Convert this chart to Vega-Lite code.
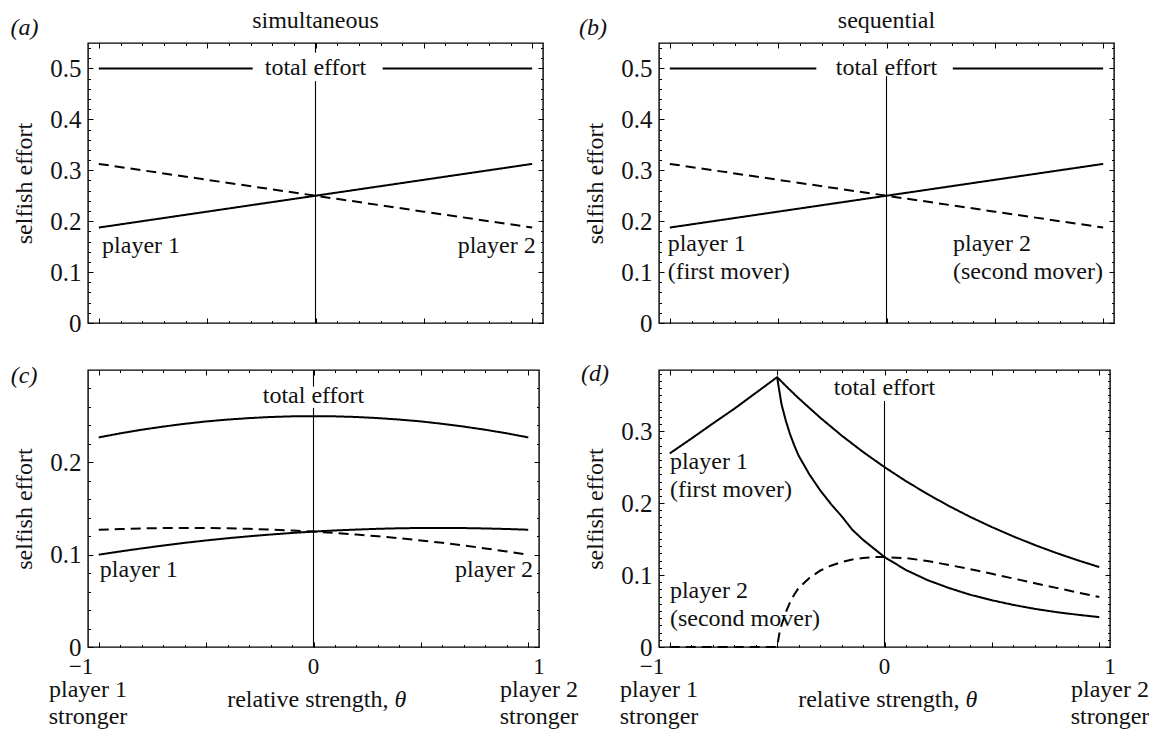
{
  "$schema": "https://vega.github.io/schema/vega-lite/v6.json",
  "background": "white",
  "padding": {"left": 9, "top": 8, "right": 0, "bottom": 0},
  "columns": 2,
  "bounds": "flush",
  "spacing": {"row": 47, "column": 116},
  "config": {
    "font": "Liberation Serif",
    "view": {"stroke": "black", "strokeWidth": 1.4},
    "axis": {"domain": false, "grid": false, "tickColor": "black", "tickWidth": 1, "labelFont": "Liberation Serif", "labelFontSize": 25, "labelColor": "#111", "titleFont": "Liberation Serif", "titleFontSize": 24, "titleFontWeight": "normal", "titleColor": "#111", "labelFlush": false, "labelOverlap": false},
    "text": {"font": "Liberation Serif", "fontSize": 24, "color": "#111"},
    "line": {"color": "black", "strokeWidth": 2},
    "rule": {"color": "black", "strokeWidth": 1.1}
  },
  "datasets": {
    "cA": [
      {"theta": -1, "eff": 0.1875, "who": "player 1", "seg": 1},
      {"theta": -0.5, "eff": 0.21875, "who": "player 1", "seg": 1},
      {"theta": 0, "eff": 0.25, "who": "player 1", "seg": 1},
      {"theta": 0.5, "eff": 0.28125, "who": "player 1", "seg": 1},
      {"theta": 1, "eff": 0.3125, "who": "player 1", "seg": 1},
      {"theta": -1, "eff": 0.3125, "who": "player 2", "seg": 1},
      {"theta": -0.5, "eff": 0.28125, "who": "player 2", "seg": 1},
      {"theta": 0, "eff": 0.25, "who": "player 2", "seg": 1},
      {"theta": 0.5, "eff": 0.21875, "who": "player 2", "seg": 1},
      {"theta": 1, "eff": 0.1875, "who": "player 2", "seg": 1},
      {"theta": -1, "eff": 0.5, "who": "total effort", "seg": 1},
      {"theta": -0.29, "eff": 0.5, "who": "total effort", "seg": 1},
      {"theta": 0.31, "eff": 0.5, "who": "total effort", "seg": 2},
      {"theta": 1, "eff": 0.5, "who": "total effort", "seg": 2}
    ],
    "cB": [
      {"theta": -1, "eff": 0.1875, "who": "player 1", "seg": 1},
      {"theta": -0.5, "eff": 0.21875, "who": "player 1", "seg": 1},
      {"theta": 0, "eff": 0.25, "who": "player 1", "seg": 1},
      {"theta": 0.5, "eff": 0.28125, "who": "player 1", "seg": 1},
      {"theta": 1, "eff": 0.3125, "who": "player 1", "seg": 1},
      {"theta": -1, "eff": 0.3125, "who": "player 2", "seg": 1},
      {"theta": -0.5, "eff": 0.28125, "who": "player 2", "seg": 1},
      {"theta": 0, "eff": 0.25, "who": "player 2", "seg": 1},
      {"theta": 0.5, "eff": 0.21875, "who": "player 2", "seg": 1},
      {"theta": 1, "eff": 0.1875, "who": "player 2", "seg": 1},
      {"theta": -1, "eff": 0.5, "who": "total effort", "seg": 1},
      {"theta": -0.324, "eff": 0.5, "who": "total effort", "seg": 1},
      {"theta": 0.306, "eff": 0.5, "who": "total effort", "seg": 2},
      {"theta": 1, "eff": 0.5, "who": "total effort", "seg": 2}
    ],
    "cC": [
      {"theta": -1, "eff": 0.1, "who": "player 1", "seg": 1},
      {"theta": -0.9, "eff": 0.1035, "who": "player 1", "seg": 1},
      {"theta": -0.8, "eff": 0.1068, "who": "player 1", "seg": 1},
      {"theta": -0.7, "eff": 0.1099, "who": "player 1", "seg": 1},
      {"theta": -0.6, "eff": 0.1128, "who": "player 1", "seg": 1},
      {"theta": -0.5, "eff": 0.1154, "who": "player 1", "seg": 1},
      {"theta": -0.4, "eff": 0.1178, "who": "player 1", "seg": 1},
      {"theta": -0.3, "eff": 0.1199, "who": "player 1", "seg": 1},
      {"theta": -0.2, "eff": 0.1218, "who": "player 1", "seg": 1},
      {"theta": -0.1, "eff": 0.1235, "who": "player 1", "seg": 1},
      {"theta": 0, "eff": 0.125, "who": "player 1", "seg": 1},
      {"theta": 0.1, "eff": 0.1262, "who": "player 1", "seg": 1},
      {"theta": 0.2, "eff": 0.1272, "who": "player 1", "seg": 1},
      {"theta": 0.3, "eff": 0.128, "who": "player 1", "seg": 1},
      {"theta": 0.4, "eff": 0.1286, "who": "player 1", "seg": 1},
      {"theta": 0.5, "eff": 0.1289, "who": "player 1", "seg": 1},
      {"theta": 0.6, "eff": 0.129, "who": "player 1", "seg": 1},
      {"theta": 0.7, "eff": 0.1288, "who": "player 1", "seg": 1},
      {"theta": 0.8, "eff": 0.1284, "who": "player 1", "seg": 1},
      {"theta": 0.9, "eff": 0.1278, "who": "player 1", "seg": 1},
      {"theta": 1, "eff": 0.127, "who": "player 1", "seg": 1},
      {"theta": -1, "eff": 0.127, "who": "player 2", "seg": 1},
      {"theta": -0.9, "eff": 0.1278, "who": "player 2", "seg": 1},
      {"theta": -0.8, "eff": 0.1284, "who": "player 2", "seg": 1},
      {"theta": -0.7, "eff": 0.1288, "who": "player 2", "seg": 1},
      {"theta": -0.6, "eff": 0.129, "who": "player 2", "seg": 1},
      {"theta": -0.5, "eff": 0.1289, "who": "player 2", "seg": 1},
      {"theta": -0.4, "eff": 0.1286, "who": "player 2", "seg": 1},
      {"theta": -0.3, "eff": 0.128, "who": "player 2", "seg": 1},
      {"theta": -0.2, "eff": 0.1272, "who": "player 2", "seg": 1},
      {"theta": -0.1, "eff": 0.1262, "who": "player 2", "seg": 1},
      {"theta": 0, "eff": 0.125, "who": "player 2", "seg": 1},
      {"theta": 0.1, "eff": 0.1235, "who": "player 2", "seg": 1},
      {"theta": 0.2, "eff": 0.1218, "who": "player 2", "seg": 1},
      {"theta": 0.3, "eff": 0.1199, "who": "player 2", "seg": 1},
      {"theta": 0.4, "eff": 0.1178, "who": "player 2", "seg": 1},
      {"theta": 0.5, "eff": 0.1154, "who": "player 2", "seg": 1},
      {"theta": 0.6, "eff": 0.1128, "who": "player 2", "seg": 1},
      {"theta": 0.7, "eff": 0.1099, "who": "player 2", "seg": 1},
      {"theta": 0.8, "eff": 0.1068, "who": "player 2", "seg": 1},
      {"theta": 0.9, "eff": 0.1035, "who": "player 2", "seg": 1},
      {"theta": 1, "eff": 0.1, "who": "player 2", "seg": 1},
      {"theta": -1, "eff": 0.227, "who": "total effort", "seg": 1},
      {"theta": -0.9, "eff": 0.2314, "who": "total effort", "seg": 1},
      {"theta": -0.8, "eff": 0.2353, "who": "total effort", "seg": 1},
      {"theta": -0.7, "eff": 0.2387, "who": "total effort", "seg": 1},
      {"theta": -0.6, "eff": 0.2417, "who": "total effort", "seg": 1},
      {"theta": -0.5, "eff": 0.2443, "who": "total effort", "seg": 1},
      {"theta": -0.4, "eff": 0.2463, "who": "total effort", "seg": 1},
      {"theta": -0.3, "eff": 0.2479, "who": "total effort", "seg": 1},
      {"theta": -0.2, "eff": 0.2491, "who": "total effort", "seg": 1},
      {"theta": -0.1, "eff": 0.2498, "who": "total effort", "seg": 1},
      {"theta": 0, "eff": 0.25, "who": "total effort", "seg": 1},
      {"theta": 0.1, "eff": 0.2498, "who": "total effort", "seg": 1},
      {"theta": 0.2, "eff": 0.2491, "who": "total effort", "seg": 1},
      {"theta": 0.3, "eff": 0.2479, "who": "total effort", "seg": 1},
      {"theta": 0.4, "eff": 0.2463, "who": "total effort", "seg": 1},
      {"theta": 0.5, "eff": 0.2443, "who": "total effort", "seg": 1},
      {"theta": 0.6, "eff": 0.2417, "who": "total effort", "seg": 1},
      {"theta": 0.7, "eff": 0.2387, "who": "total effort", "seg": 1},
      {"theta": 0.8, "eff": 0.2353, "who": "total effort", "seg": 1},
      {"theta": 0.9, "eff": 0.2314, "who": "total effort", "seg": 1},
      {"theta": 1, "eff": 0.227, "who": "total effort", "seg": 1}
    ],
    "cD": [
      {"theta": -1, "eff": 0.269, "who": "total effort", "seg": 1},
      {"theta": -0.9, "eff": 0.2895, "who": "total effort", "seg": 1},
      {"theta": -0.8, "eff": 0.3105, "who": "total effort", "seg": 1},
      {"theta": -0.7, "eff": 0.331, "who": "total effort", "seg": 1},
      {"theta": -0.6, "eff": 0.353, "who": "total effort", "seg": 1},
      {"theta": -0.5, "eff": 0.375, "who": "total effort", "seg": 1},
      {"theta": -0.45, "eff": 0.3601, "who": "total effort", "seg": 1},
      {"theta": -0.4, "eff": 0.3458, "who": "total effort", "seg": 1},
      {"theta": -0.3, "eff": 0.3189, "who": "total effort", "seg": 1},
      {"theta": -0.2, "eff": 0.294, "who": "total effort", "seg": 1},
      {"theta": -0.1, "eff": 0.2711, "who": "total effort", "seg": 1},
      {"theta": 0, "eff": 0.25, "who": "total effort", "seg": 1},
      {"theta": 0.1, "eff": 0.2305, "who": "total effort", "seg": 1},
      {"theta": 0.2, "eff": 0.2126, "who": "total effort", "seg": 1},
      {"theta": 0.3, "eff": 0.196, "who": "total effort", "seg": 1},
      {"theta": 0.4, "eff": 0.1807, "who": "total effort", "seg": 1},
      {"theta": 0.5, "eff": 0.1667, "who": "total effort", "seg": 1},
      {"theta": 0.6, "eff": 0.1537, "who": "total effort", "seg": 1},
      {"theta": 0.7, "eff": 0.1417, "who": "total effort", "seg": 1},
      {"theta": 0.8, "eff": 0.1307, "who": "total effort", "seg": 1},
      {"theta": 0.9, "eff": 0.1205, "who": "total effort", "seg": 1},
      {"theta": 1, "eff": 0.1111, "who": "total effort", "seg": 1},
      {"theta": -0.5, "eff": 0.375, "who": "player 1", "seg": 1},
      {"theta": -0.48, "eff": 0.338, "who": "player 1", "seg": 1},
      {"theta": -0.46, "eff": 0.315, "who": "player 1", "seg": 1},
      {"theta": -0.44, "eff": 0.296, "who": "player 1", "seg": 1},
      {"theta": -0.42, "eff": 0.28, "who": "player 1", "seg": 1},
      {"theta": -0.4, "eff": 0.266, "who": "player 1", "seg": 1},
      {"theta": -0.35, "eff": 0.24, "who": "player 1", "seg": 1},
      {"theta": -0.3, "eff": 0.218, "who": "player 1", "seg": 1},
      {"theta": -0.25, "eff": 0.199, "who": "player 1", "seg": 1},
      {"theta": -0.2, "eff": 0.182, "who": "player 1", "seg": 1},
      {"theta": -0.15, "eff": 0.163, "who": "player 1", "seg": 1},
      {"theta": -0.1, "eff": 0.149, "who": "player 1", "seg": 1},
      {"theta": -0.05, "eff": 0.137, "who": "player 1", "seg": 1},
      {"theta": 0, "eff": 0.125, "who": "player 1", "seg": 1},
      {"theta": 0.1, "eff": 0.107, "who": "player 1", "seg": 1},
      {"theta": 0.2, "eff": 0.093, "who": "player 1", "seg": 1},
      {"theta": 0.3, "eff": 0.082, "who": "player 1", "seg": 1},
      {"theta": 0.4, "eff": 0.0725, "who": "player 1", "seg": 1},
      {"theta": 0.5, "eff": 0.065, "who": "player 1", "seg": 1},
      {"theta": 0.6, "eff": 0.0585, "who": "player 1", "seg": 1},
      {"theta": 0.7, "eff": 0.053, "who": "player 1", "seg": 1},
      {"theta": 0.8, "eff": 0.0485, "who": "player 1", "seg": 1},
      {"theta": 0.9, "eff": 0.0448, "who": "player 1", "seg": 1},
      {"theta": 1, "eff": 0.0415, "who": "player 1", "seg": 1},
      {"theta": -1, "eff": 0, "who": "player 2", "seg": 1},
      {"theta": -0.9, "eff": 0, "who": "player 2", "seg": 1},
      {"theta": -0.8, "eff": 0, "who": "player 2", "seg": 1},
      {"theta": -0.7, "eff": 0, "who": "player 2", "seg": 1},
      {"theta": -0.6, "eff": 0, "who": "player 2", "seg": 1},
      {"theta": -0.5, "eff": 0, "who": "player 2", "seg": 1},
      {"theta": -0.49, "eff": 0.018, "who": "player 2", "seg": 1},
      {"theta": -0.48, "eff": 0.03, "who": "player 2", "seg": 1},
      {"theta": -0.46, "eff": 0.048, "who": "player 2", "seg": 1},
      {"theta": -0.44, "eff": 0.062, "who": "player 2", "seg": 1},
      {"theta": -0.42, "eff": 0.073, "who": "player 2", "seg": 1},
      {"theta": -0.4, "eff": 0.082, "who": "player 2", "seg": 1},
      {"theta": -0.35, "eff": 0.096, "who": "player 2", "seg": 1},
      {"theta": -0.3, "eff": 0.106, "who": "player 2", "seg": 1},
      {"theta": -0.25, "eff": 0.113, "who": "player 2", "seg": 1},
      {"theta": -0.2, "eff": 0.118, "who": "player 2", "seg": 1},
      {"theta": -0.15, "eff": 0.1215, "who": "player 2", "seg": 1},
      {"theta": -0.1, "eff": 0.1238, "who": "player 2", "seg": 1},
      {"theta": -0.05, "eff": 0.125, "who": "player 2", "seg": 1},
      {"theta": 0, "eff": 0.125, "who": "player 2", "seg": 1},
      {"theta": 0.1, "eff": 0.1235, "who": "player 2", "seg": 1},
      {"theta": 0.2, "eff": 0.1196, "who": "player 2", "seg": 1},
      {"theta": 0.3, "eff": 0.114, "who": "player 2", "seg": 1},
      {"theta": 0.4, "eff": 0.1082, "who": "player 2", "seg": 1},
      {"theta": 0.5, "eff": 0.1017, "who": "player 2", "seg": 1},
      {"theta": 0.6, "eff": 0.0952, "who": "player 2", "seg": 1},
      {"theta": 0.7, "eff": 0.0887, "who": "player 2", "seg": 1},
      {"theta": 0.8, "eff": 0.0822, "who": "player 2", "seg": 1},
      {"theta": 0.9, "eff": 0.0757, "who": "player 2", "seg": 1},
      {"theta": 1, "eff": 0.0696, "who": "player 2", "seg": 1}
    ]
  },
  "concat": [
    {
      "width": 455, "height": 280,
      "resolve": {"axis": {"x": "independent", "y": "independent"}},
      "layer": [
        {"data": {"name": "cA"}, "mark": {"type": "line"},
         "encoding": {
           "x": {"field": "theta", "type": "quantitative", "scale": {"domain": [-1.05, 1.05], "nice": false, "zero": false}, "axis": {"orient": "bottom", "values": [-1,-0.9,-0.8,-0.7,-0.6,-0.5,-0.4,-0.3,-0.2,-0.1,0,0.1,0.2,0.3,0.4,0.5,0.6,0.7,0.8,0.9,1], "tickSize": -2.5, "labels": false, "title": null}},
           "y": {"field": "eff", "type": "quantitative", "scale": {"domain": [0, 0.55], "nice": false, "zero": false}, "axis": {"orient": "left", "values": [0,0.1,0.2,0.3,0.4,0.5], "tickSize": -5, "labelPadding": 12, "labelExpr": "datum.value == 0 ? '0' : format(datum.value, '.1f')", "title": "selfish effort", "titlePadding": 13}},
           "strokeDash": {"field": "who", "type": "nominal", "scale": {"domain": ["player 1", "player 2", "total effort"], "range": [[1, 0], [10, 6], [1, 0]]}, "legend": null},
           "detail": {"field": "seg", "type": "nominal"}
         }},
        {"data": {"values": [{"theta": 0, "lo": 0, "hi": 0.475}, {"theta": 0, "lo": 0.531, "hi": 0.55}]}, "mark": {"type": "rule"},
         "encoding": {
           "x": {"field": "theta", "type": "quantitative", "scale": {"domain": [-1.05, 1.05], "nice": false, "zero": false}, "axis": {"orient": "top", "values": [-1,-0.9,-0.8,-0.7,-0.6,-0.5,-0.4,-0.3,-0.2,-0.1,0,0.1,0.2,0.3,0.4,0.5,0.6,0.7,0.8,0.9,1], "tickSize": -2.5, "labels": false, "title": null}},
           "y": {"field": "lo", "type": "quantitative", "scale": {"domain": [0, 0.55], "nice": false, "zero": false}, "axis": {"orient": "right", "values": [0,0.1,0.2,0.3,0.4,0.5], "tickSize": -5, "labels": false, "title": null}},
           "y2": {"field": "hi"}
         }},
        {"data": {"values": [{"theta": 0, "eff": 0.5, "t": "total effort"}]}, "mark": {"type": "text", "align": "center", "baseline": "middle"},
         "encoding": {
           "x": {"field": "theta", "type": "quantitative", "scale": {"domain": [-1.05, 1.05], "nice": false, "zero": false}, "axis": {"orient": "bottom", "values": [-1,-0.5,0,0.5,1], "tickSize": -5, "labels": false, "title": null}},
           "y": {"field": "eff", "type": "quantitative", "scale": {"domain": [0, 0.55], "nice": false, "zero": false}, "axis": {"orient": "left", "values": [0,0.02,0.04,0.06,0.08,0.1,0.12,0.14,0.16,0.18,0.2,0.22,0.24,0.26,0.28,0.3,0.32,0.34,0.36,0.38,0.4,0.42,0.44,0.46,0.48,0.5,0.52,0.54], "tickSize": -2.5, "labels": false, "title": null}},
           "text": {"field": "t"}
         }},
        {"data": {"values": [{"theta": -0.985, "eff": 0.138, "t": "player 1"}]}, "mark": {"type": "text", "align": "left", "baseline": "alphabetic"},
         "encoding": {
           "x": {"field": "theta", "type": "quantitative", "scale": {"domain": [-1.05, 1.05], "nice": false, "zero": false}, "axis": {"orient": "top", "values": [-1,-0.5,0,0.5,1], "tickSize": -5, "labels": false, "title": null}},
           "y": {"field": "eff", "type": "quantitative", "scale": {"domain": [0, 0.55], "nice": false, "zero": false}, "axis": {"orient": "right", "values": [0,0.02,0.04,0.06,0.08,0.1,0.12,0.14,0.16,0.18,0.2,0.22,0.24,0.26,0.28,0.3,0.32,0.34,0.36,0.38,0.4,0.42,0.44,0.46,0.48,0.5,0.52,0.54], "tickSize": -2.5, "labels": false, "title": null}},
           "text": {"field": "t"}
         }},
        {"data": {"values": [{"theta": 1.016, "eff": 0.138, "t": "player 2"}]}, "mark": {"type": "text", "align": "right", "baseline": "alphabetic"},
         "encoding": {
           "x": {"field": "theta", "type": "quantitative", "scale": {"domain": [-1.05, 1.05], "nice": false, "zero": false}, "axis": null},
           "y": {"field": "eff", "type": "quantitative", "scale": {"domain": [0, 0.55], "nice": false, "zero": false}, "axis": null},
           "text": {"field": "t"}
         }},
        {"data": {"values": [{"theta": 0, "eff": 0.55, "t": "simultaneous"}]}, "mark": {"type": "text", "align": "center", "baseline": "alphabetic", "dy": -15},
         "encoding": {
           "x": {"field": "theta", "type": "quantitative", "scale": {"domain": [-1.05, 1.05], "nice": false, "zero": false}, "axis": null},
           "y": {"field": "eff", "type": "quantitative", "scale": {"domain": [0, 0.55], "nice": false, "zero": false}, "axis": null},
           "text": {"field": "t"}
         }},
        {"data": {"values": [{"theta": -1.05, "eff": 0.55, "t": "(a)"}]}, "mark": {"type": "text", "align": "right", "baseline": "alphabetic", "dx": -49.6, "dy": -8, "fontStyle": "italic"},
         "encoding": {
           "x": {"field": "theta", "type": "quantitative", "scale": {"domain": [-1.05, 1.05], "nice": false, "zero": false}, "axis": null},
           "y": {"field": "eff", "type": "quantitative", "scale": {"domain": [0, 0.55], "nice": false, "zero": false}, "axis": null},
           "text": {"field": "t"}
         }}
      ]
    },
    {
      "width": 455, "height": 280,
      "resolve": {"axis": {"x": "independent", "y": "independent"}},
      "layer": [
        {"data": {"name": "cB"}, "mark": {"type": "line"},
         "encoding": {
           "x": {"field": "theta", "type": "quantitative", "scale": {"domain": [-1.05, 1.05], "nice": false, "zero": false}, "axis": {"orient": "bottom", "values": [-1,-0.9,-0.8,-0.7,-0.6,-0.5,-0.4,-0.3,-0.2,-0.1,0,0.1,0.2,0.3,0.4,0.5,0.6,0.7,0.8,0.9,1], "tickSize": -2.5, "labels": false, "title": null}},
           "y": {"field": "eff", "type": "quantitative", "scale": {"domain": [0, 0.55], "nice": false, "zero": false}, "axis": {"orient": "left", "values": [0,0.1,0.2,0.3,0.4,0.5], "tickSize": -5, "labelPadding": 12, "labelExpr": "datum.value == 0 ? '0' : format(datum.value, '.1f')", "title": "selfish effort", "titlePadding": 13}},
           "strokeDash": {"field": "who", "type": "nominal", "scale": {"domain": ["player 1", "player 2", "total effort"], "range": [[1, 0], [10, 6], [1, 0]]}, "legend": null},
           "detail": {"field": "seg", "type": "nominal"}
         }},
        {"data": {"values": [{"theta": 0, "lo": 0, "hi": 0.485}]}, "mark": {"type": "rule"},
         "encoding": {
           "x": {"field": "theta", "type": "quantitative", "scale": {"domain": [-1.05, 1.05], "nice": false, "zero": false}, "axis": {"orient": "top", "values": [-1,-0.9,-0.8,-0.7,-0.6,-0.5,-0.4,-0.3,-0.2,-0.1,0,0.1,0.2,0.3,0.4,0.5,0.6,0.7,0.8,0.9,1], "tickSize": -2.5, "labels": false, "title": null}},
           "y": {"field": "lo", "type": "quantitative", "scale": {"domain": [0, 0.55], "nice": false, "zero": false}, "axis": {"orient": "right", "values": [0,0.1,0.2,0.3,0.4,0.5], "tickSize": -5, "labels": false, "title": null}},
           "y2": {"field": "hi"}
         }},
        {"data": {"values": [{"theta": 0, "eff": 0.5, "t": "total effort"}]}, "mark": {"type": "text", "align": "center", "baseline": "middle"},
         "encoding": {
           "x": {"field": "theta", "type": "quantitative", "scale": {"domain": [-1.05, 1.05], "nice": false, "zero": false}, "axis": {"orient": "bottom", "values": [-1,-0.5,0,0.5,1], "tickSize": -5, "labels": false, "title": null}},
           "y": {"field": "eff", "type": "quantitative", "scale": {"domain": [0, 0.55], "nice": false, "zero": false}, "axis": {"orient": "left", "values": [0,0.02,0.04,0.06,0.08,0.1,0.12,0.14,0.16,0.18,0.2,0.22,0.24,0.26,0.28,0.3,0.32,0.34,0.36,0.38,0.4,0.42,0.44,0.46,0.48,0.5,0.52,0.54], "tickSize": -2.5, "labels": false, "title": null}},
           "text": {"field": "t"}
         }},
        {"data": {"values": [{"theta": -1.01, "eff": 0.142, "t": "player 1\n(first mover)"}, {"theta": 0.307, "eff": 0.142, "t": "player 2\n(second mover)"}]}, "mark": {"type": "text", "align": "left", "baseline": "alphabetic", "lineBreak": "\n", "lineHeight": 28},
         "encoding": {
           "x": {"field": "theta", "type": "quantitative", "scale": {"domain": [-1.05, 1.05], "nice": false, "zero": false}, "axis": {"orient": "top", "values": [-1,-0.5,0,0.5,1], "tickSize": -5, "labels": false, "title": null}},
           "y": {"field": "eff", "type": "quantitative", "scale": {"domain": [0, 0.55], "nice": false, "zero": false}, "axis": {"orient": "right", "values": [0,0.02,0.04,0.06,0.08,0.1,0.12,0.14,0.16,0.18,0.2,0.22,0.24,0.26,0.28,0.3,0.32,0.34,0.36,0.38,0.4,0.42,0.44,0.46,0.48,0.5,0.52,0.54], "tickSize": -2.5, "labels": false, "title": null}},
           "text": {"field": "t"}
         }},
        {"data": {"values": [{"theta": 0, "eff": 0.55, "t": "sequential"}]}, "mark": {"type": "text", "align": "center", "baseline": "alphabetic", "dy": -15},
         "encoding": {
           "x": {"field": "theta", "type": "quantitative", "scale": {"domain": [-1.05, 1.05], "nice": false, "zero": false}, "axis": null},
           "y": {"field": "eff", "type": "quantitative", "scale": {"domain": [0, 0.55], "nice": false, "zero": false}, "axis": null},
           "text": {"field": "t"}
         }},
        {"data": {"values": [{"theta": -1.05, "eff": 0.55, "t": "(b)"}]}, "mark": {"type": "text", "align": "right", "baseline": "alphabetic", "dx": -52, "dy": -8, "fontStyle": "italic"},
         "encoding": {
           "x": {"field": "theta", "type": "quantitative", "scale": {"domain": [-1.05, 1.05], "nice": false, "zero": false}, "axis": null},
           "y": {"field": "eff", "type": "quantitative", "scale": {"domain": [0, 0.55], "nice": false, "zero": false}, "axis": null},
           "text": {"field": "t"}
         }}
      ]
    },
    {
      "width": 451, "height": 277,
      "resolve": {"axis": {"x": "independent", "y": "independent"}},
      "layer": [
        {"data": {"name": "cC"}, "mark": {"type": "line"},
         "encoding": {
           "x": {"field": "theta", "type": "quantitative", "scale": {"domain": [-1.05, 1.05], "nice": false, "zero": false}, "axis": {"orient": "bottom", "values": [-1,-0.9,-0.8,-0.7,-0.6,-0.5,-0.4,-0.3,-0.2,-0.1,0,0.1,0.2,0.3,0.4,0.5,0.6,0.7,0.8,0.9,1], "tickSize": -2.5, "labels": false, "title": null}},
           "y": {"field": "eff", "type": "quantitative", "scale": {"domain": [0, 0.3], "nice": false, "zero": false}, "axis": {"orient": "left", "values": [0,0.1,0.2], "tickSize": -5, "labelPadding": 12, "labelExpr": "datum.value == 0 ? '0' : format(datum.value, '.1f')", "title": "selfish effort", "titlePadding": 13}},
           "strokeDash": {"field": "who", "type": "nominal", "scale": {"domain": ["player 1", "player 2", "total effort"], "range": [[1, 0], [10, 6], [1, 0]]}, "legend": null},
           "detail": {"field": "seg", "type": "nominal"}
         }},
        {"data": {"values": [{"theta": 0, "lo": 0, "hi": 0.259}, {"theta": 0, "lo": 0.282, "hi": 0.3}]}, "mark": {"type": "rule"},
         "encoding": {
           "x": {"field": "theta", "type": "quantitative", "scale": {"domain": [-1.05, 1.05], "nice": false, "zero": false}, "axis": {"orient": "top", "values": [-1,-0.9,-0.8,-0.7,-0.6,-0.5,-0.4,-0.3,-0.2,-0.1,0,0.1,0.2,0.3,0.4,0.5,0.6,0.7,0.8,0.9,1], "tickSize": -2.5, "labels": false, "title": null}},
           "y": {"field": "lo", "type": "quantitative", "scale": {"domain": [0, 0.3], "nice": false, "zero": false}, "axis": {"orient": "right", "values": [0,0.1,0.2], "tickSize": -5, "labels": false, "title": null}},
           "y2": {"field": "hi"}
         }},
        {"data": {"values": [{"theta": 0, "eff": 0.2643, "t": "total effort"}]}, "mark": {"type": "text", "align": "center", "baseline": "alphabetic"},
         "encoding": {
           "x": {"field": "theta", "type": "quantitative", "scale": {"domain": [-1.05, 1.05], "nice": false, "zero": false}, "axis": {"orient": "bottom", "values": [-1,-0.5,0,0.5,1], "tickSize": -5, "labels": false, "title": null}},
           "y": {"field": "eff", "type": "quantitative", "scale": {"domain": [0, 0.3], "nice": false, "zero": false}, "axis": {"orient": "left", "values": [0,0.02,0.04,0.06,0.08,0.1,0.12,0.14,0.16,0.18,0.2,0.22,0.24,0.26,0.28], "tickSize": -2.5, "labels": false, "title": null}},
           "text": {"field": "t"}
         }},
        {"data": {"values": [{"theta": -0.995, "eff": 0.0755, "t": "player 1"}]}, "mark": {"type": "text", "align": "left", "baseline": "alphabetic"},
         "encoding": {
           "x": {"field": "theta", "type": "quantitative", "scale": {"domain": [-1.05, 1.05], "nice": false, "zero": false}, "axis": {"orient": "top", "values": [-1,-0.5,0,0.5,1], "tickSize": -5, "labels": false, "title": null}},
           "y": {"field": "eff", "type": "quantitative", "scale": {"domain": [0, 0.3], "nice": false, "zero": false}, "axis": {"orient": "right", "values": [0,0.02,0.04,0.06,0.08,0.1,0.12,0.14,0.16,0.18,0.2,0.22,0.24,0.26,0.28], "tickSize": -2.5, "labels": false, "title": null}},
           "text": {"field": "t"}
         }},
        {"data": {"values": [{"theta": 1.022, "eff": 0.0755, "t": "player 2"}]}, "mark": {"type": "text", "align": "right", "baseline": "alphabetic"},
         "encoding": {
           "x": {"field": "theta", "type": "quantitative", "scale": {"domain": [-1.05, 1.05], "nice": false, "zero": false}, "axis": null},
           "y": {"field": "eff", "type": "quantitative", "scale": {"domain": [0, 0.3], "nice": false, "zero": false}, "axis": null},
           "text": {"field": "t"}
         }},
        {"data": {"values": [{"theta": -1.05, "eff": 0.3, "t": "(c)"}]}, "mark": {"type": "text", "align": "right", "baseline": "alphabetic", "dx": -50.5, "dy": 13.3, "fontStyle": "italic"},
         "encoding": {
           "x": {"field": "theta", "type": "quantitative", "scale": {"domain": [-1.05, 1.05], "nice": false, "zero": false}, "axis": null},
           "y": {"field": "eff", "type": "quantitative", "scale": {"domain": [0, 0.3], "nice": false, "zero": false}, "axis": null},
           "text": {"field": "t"}
         }},
        {"data": {"values": [{"theta": -1.05, "eff": 0, "t": "−1"}]}, "mark": {"type": "text", "align": "center", "baseline": "middle", "dx": -7, "dy": 19.5, "fontSize": 23},
         "encoding": {
           "x": {"field": "theta", "type": "quantitative", "scale": {"domain": [-1.05, 1.05], "nice": false, "zero": false}, "axis": null},
           "y": {"field": "eff", "type": "quantitative", "scale": {"domain": [0, 0.3], "nice": false, "zero": false}, "axis": null},
           "text": {"field": "t"}
         }},
        {"data": {"values": [{"theta": 0, "eff": 0, "t": "0"}, {"theta": 1.05, "eff": 0, "t": "1"}]}, "mark": {"type": "text", "align": "center", "baseline": "middle", "dy": 19.5, "fontSize": 23},
         "encoding": {
           "x": {"field": "theta", "type": "quantitative", "scale": {"domain": [-1.05, 1.05], "nice": false, "zero": false}, "axis": null},
           "y": {"field": "eff", "type": "quantitative", "scale": {"domain": [0, 0.3], "nice": false, "zero": false}, "axis": null},
           "text": {"field": "t"}
         }},
        {"data": {"values": [{"theta": -1.05, "eff": 0, "t": "player 1\nstronger"}, {"theta": 1.05, "eff": 0, "t": "player 2\nstronger"}]}, "mark": {"type": "text", "align": "center", "baseline": "alphabetic", "dy": 50, "lineBreak": "\n", "lineHeight": 27},
         "encoding": {
           "x": {"field": "theta", "type": "quantitative", "scale": {"domain": [-1.05, 1.05], "nice": false, "zero": false}, "axis": null},
           "y": {"field": "eff", "type": "quantitative", "scale": {"domain": [0, 0.3], "nice": false, "zero": false}, "axis": null},
           "text": {"field": "t"}
         }},
        {"data": {"values": [{"theta": 0, "eff": 0, "t": "relative strength,"}]}, "mark": {"type": "text", "align": "right", "baseline": "alphabetic", "dx": 75, "dy": 59.8},
         "encoding": {
           "x": {"field": "theta", "type": "quantitative", "scale": {"domain": [-1.05, 1.05], "nice": false, "zero": false}, "axis": null},
           "y": {"field": "eff", "type": "quantitative", "scale": {"domain": [0, 0.3], "nice": false, "zero": false}, "axis": null},
           "text": {"field": "t"}
         }},
        {"data": {"values": [{"theta": 0, "eff": 0, "t": "θ"}]}, "mark": {"type": "text", "align": "left", "baseline": "alphabetic", "dx": 81, "dy": 59.8, "fontStyle": "italic"},
         "encoding": {
           "x": {"field": "theta", "type": "quantitative", "scale": {"domain": [-1.05, 1.05], "nice": false, "zero": false}, "axis": null},
           "y": {"field": "eff", "type": "quantitative", "scale": {"domain": [0, 0.3], "nice": false, "zero": false}, "axis": null},
           "text": {"field": "t"}
         }}
      ]
    },
    {
      "width": 451, "height": 277,
      "resolve": {"axis": {"x": "independent", "y": "independent"}},
      "layer": [
        {"data": {"name": "cD"}, "mark": {"type": "line"},
         "encoding": {
           "x": {"field": "theta", "type": "quantitative", "scale": {"domain": [-1.05, 1.05], "nice": false, "zero": false}, "axis": {"orient": "bottom", "values": [-1,-0.9,-0.8,-0.7,-0.6,-0.5,-0.4,-0.3,-0.2,-0.1,0,0.1,0.2,0.3,0.4,0.5,0.6,0.7,0.8,0.9,1], "tickSize": -2.5, "labels": false, "title": null}},
           "y": {"field": "eff", "type": "quantitative", "scale": {"domain": [0, 0.385], "nice": false, "zero": false}, "axis": {"orient": "left", "values": [0,0.1,0.2,0.3], "tickSize": -5, "labelPadding": 12, "labelExpr": "datum.value == 0 ? '0' : format(datum.value, '.1f')", "title": "selfish effort", "titlePadding": 13}},
           "strokeDash": {"field": "who", "type": "nominal", "scale": {"domain": ["player 1", "player 2", "total effort"], "range": [[1, 0], [10, 6], [1, 0]]}, "legend": null},
           "detail": {"field": "seg", "type": "nominal"}
         }},
        {"data": {"values": [{"theta": 0, "lo": 0, "hi": 0.342}]}, "mark": {"type": "rule"},
         "encoding": {
           "x": {"field": "theta", "type": "quantitative", "scale": {"domain": [-1.05, 1.05], "nice": false, "zero": false}, "axis": {"orient": "top", "values": [-1,-0.9,-0.8,-0.7,-0.6,-0.5,-0.4,-0.3,-0.2,-0.1,0,0.1,0.2,0.3,0.4,0.5,0.6,0.7,0.8,0.9,1], "tickSize": -2.5, "labels": false, "title": null}},
           "y": {"field": "lo", "type": "quantitative", "scale": {"domain": [0, 0.385], "nice": false, "zero": false}, "axis": {"orient": "right", "values": [0,0.1,0.2,0.3], "tickSize": -5, "labels": false, "title": null}},
           "y2": {"field": "hi"}
         }},
        {"data": {"values": [{"theta": 0, "eff": 0.3496, "t": "total effort"}]}, "mark": {"type": "text", "align": "center", "baseline": "alphabetic"},
         "encoding": {
           "x": {"field": "theta", "type": "quantitative", "scale": {"domain": [-1.05, 1.05], "nice": false, "zero": false}, "axis": {"orient": "bottom", "values": [-1,-0.5,0,0.5,1], "tickSize": -5, "labels": false, "title": null}},
           "y": {"field": "eff", "type": "quantitative", "scale": {"domain": [0, 0.385], "nice": false, "zero": false}, "axis": {"orient": "left", "values": [0,0.01,0.02,0.03,0.04,0.05,0.06,0.07,0.08,0.09,0.1,0.11,0.12,0.13,0.14,0.15,0.16,0.17,0.18,0.19,0.2,0.21,0.22,0.23,0.24,0.25,0.26,0.27,0.28,0.29,0.3,0.31,0.32,0.33,0.34,0.35,0.36,0.37,0.38], "tickSize": -2.5, "labels": false, "title": null}},
           "text": {"field": "t"}
         }},
        {"data": {"values": [{"theta": -0.999, "eff": 0.247, "t": "player 1\n(first mover)"}, {"theta": -0.999, "eff": 0.0685, "t": "player 2\n(second mover)"}]}, "mark": {"type": "text", "align": "left", "baseline": "alphabetic", "lineBreak": "\n", "lineHeight": 28},
         "encoding": {
           "x": {"field": "theta", "type": "quantitative", "scale": {"domain": [-1.05, 1.05], "nice": false, "zero": false}, "axis": {"orient": "top", "values": [-1,-0.5,0,0.5,1], "tickSize": -5, "labels": false, "title": null}},
           "y": {"field": "eff", "type": "quantitative", "scale": {"domain": [0, 0.385], "nice": false, "zero": false}, "axis": {"orient": "right", "values": [0,0.01,0.02,0.03,0.04,0.05,0.06,0.07,0.08,0.09,0.1,0.11,0.12,0.13,0.14,0.15,0.16,0.17,0.18,0.19,0.2,0.21,0.22,0.23,0.24,0.25,0.26,0.27,0.28,0.29,0.3,0.31,0.32,0.33,0.34,0.35,0.36,0.37,0.38], "tickSize": -2.5, "labels": false, "title": null}},
           "text": {"field": "t"}
         }},
        {"data": {"values": [{"theta": -1.05, "eff": 0.385, "t": "(d)"}]}, "mark": {"type": "text", "align": "right", "baseline": "alphabetic", "dx": -50, "dy": 10.8, "fontStyle": "italic"},
         "encoding": {
           "x": {"field": "theta", "type": "quantitative", "scale": {"domain": [-1.05, 1.05], "nice": false, "zero": false}, "axis": null},
           "y": {"field": "eff", "type": "quantitative", "scale": {"domain": [0, 0.385], "nice": false, "zero": false}, "axis": null},
           "text": {"field": "t"}
         }},
        {"data": {"values": [{"theta": -1.05, "eff": 0, "t": "−1"}]}, "mark": {"type": "text", "align": "center", "baseline": "middle", "dx": -7, "dy": 19.5, "fontSize": 23},
         "encoding": {
           "x": {"field": "theta", "type": "quantitative", "scale": {"domain": [-1.05, 1.05], "nice": false, "zero": false}, "axis": null},
           "y": {"field": "eff", "type": "quantitative", "scale": {"domain": [0, 0.385], "nice": false, "zero": false}, "axis": null},
           "text": {"field": "t"}
         }},
        {"data": {"values": [{"theta": 0, "eff": 0, "t": "0"}, {"theta": 1.05, "eff": 0, "t": "1"}]}, "mark": {"type": "text", "align": "center", "baseline": "middle", "dy": 19.5, "fontSize": 23},
         "encoding": {
           "x": {"field": "theta", "type": "quantitative", "scale": {"domain": [-1.05, 1.05], "nice": false, "zero": false}, "axis": null},
           "y": {"field": "eff", "type": "quantitative", "scale": {"domain": [0, 0.385], "nice": false, "zero": false}, "axis": null},
           "text": {"field": "t"}
         }},
        {"data": {"values": [{"theta": -1.05, "eff": 0, "t": "player 1\nstronger"}, {"theta": 1.05, "eff": 0, "t": "player 2\nstronger"}]}, "mark": {"type": "text", "align": "center", "baseline": "alphabetic", "dy": 50, "lineBreak": "\n", "lineHeight": 27},
         "encoding": {
           "x": {"field": "theta", "type": "quantitative", "scale": {"domain": [-1.05, 1.05], "nice": false, "zero": false}, "axis": null},
           "y": {"field": "eff", "type": "quantitative", "scale": {"domain": [0, 0.385], "nice": false, "zero": false}, "axis": null},
           "text": {"field": "t"}
         }},
        {"data": {"values": [{"theta": 0, "eff": 0, "t": "relative strength,"}]}, "mark": {"type": "text", "align": "right", "baseline": "alphabetic", "dx": 75, "dy": 59.8},
         "encoding": {
           "x": {"field": "theta", "type": "quantitative", "scale": {"domain": [-1.05, 1.05], "nice": false, "zero": false}, "axis": null},
           "y": {"field": "eff", "type": "quantitative", "scale": {"domain": [0, 0.385], "nice": false, "zero": false}, "axis": null},
           "text": {"field": "t"}
         }},
        {"data": {"values": [{"theta": 0, "eff": 0, "t": "θ"}]}, "mark": {"type": "text", "align": "left", "baseline": "alphabetic", "dx": 81, "dy": 59.8, "fontStyle": "italic"},
         "encoding": {
           "x": {"field": "theta", "type": "quantitative", "scale": {"domain": [-1.05, 1.05], "nice": false, "zero": false}, "axis": null},
           "y": {"field": "eff", "type": "quantitative", "scale": {"domain": [0, 0.385], "nice": false, "zero": false}, "axis": null},
           "text": {"field": "t"}
         }}
      ]
    }
  ]
}
